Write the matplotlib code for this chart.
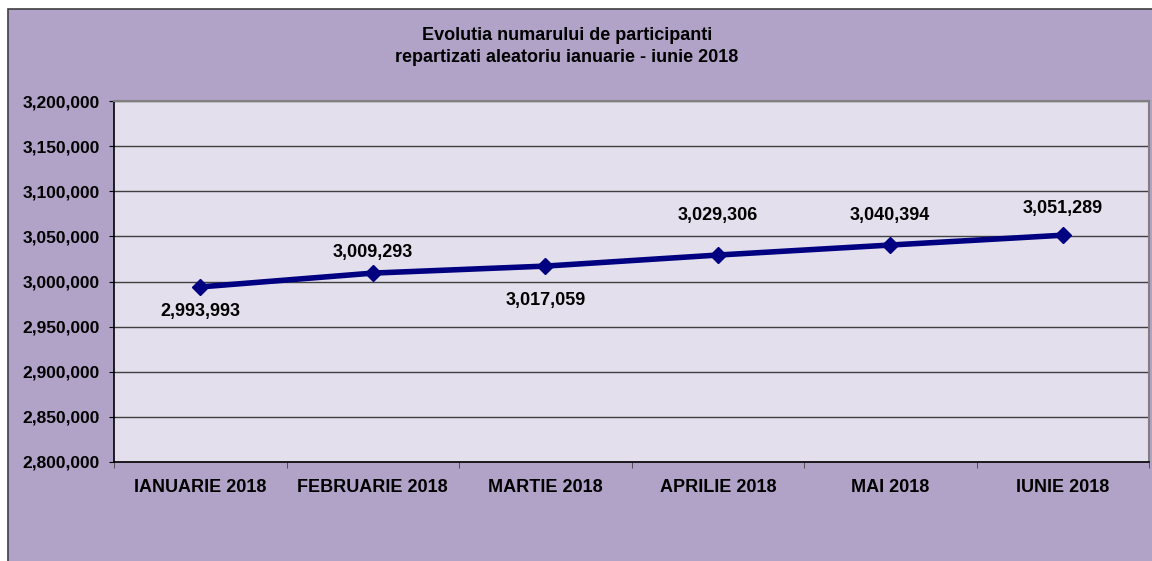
import matplotlib.pyplot as plt
from matplotlib.patches import Rectangle
from matplotlib.ticker import FuncFormatter

luni = ['IANUARIE 2018', 'FEBRUARIE 2018', 'MARTIE 2018', 'APRILIE 2018', 'MAI 2018', 'IUNIE 2018']
participanti = [2993993, 3009293, 3017059, 3029306, 3040394, 3051289]
# offset of each value label, in pixels (below / above the point)
offset_eticheta = [-25, 21, -34, 40, 30, 27]

plt.rcParams['font.family'] = ['Liberation Sans', 'DejaVu Sans']
plt.rcParams['font.weight'] = 'bold'

fig = plt.figure(figsize=(11.52, 5.61), dpi=100)
fig.patch.set_facecolor('white')

# purple chart panel with border on top and left
fig.patches.append(Rectangle((8 / 1152, -0.01), 1.02, 1 - 9 / 561 + 0.01, transform=fig.transFigure,
                             facecolor='#B1A2C7', edgecolor='#404040', linewidth=1.2, zorder=-5))

ax = fig.add_axes([114 / 1152, 1 - 462 / 561, (1149 - 114) / 1152, (462 - 101) / 561])
ax.set_facecolor('#E4DFEC')

x = list(range(len(luni)))
ax.plot(x, participanti, color='#000080', linewidth=4, marker='D', markersize=8, zorder=3)

for xi, v, off in zip(x, participanti, offset_eticheta):
    ax.annotate(f'{v:,}', (xi, v), xytext=(0, off), textcoords='offset pixels',
                ha='center', va='center', fontsize=13, fontweight='bold', color='black')

ax.set_ylim(2800000, 3200000)
ax.set_yticks(range(2800000, 3200001, 50000))
ax.yaxis.set_major_formatter(FuncFormatter(lambda v, p: f'{int(v):,}'))
ax.grid(axis='y', color='#404040', linewidth=1)
ax.set_axisbelow(True)

ax.set_xlim(-0.5, len(luni) - 0.5)
ax.set_xticks(x)
ax.set_xticklabels(luni)
ax.set_xticks([i - 0.5 for i in range(len(luni) + 1)], minor=True)
ax.tick_params(axis='x', which='major', length=0, pad=12, labelsize=13)
ax.tick_params(axis='x', which='minor', length=4, direction='out', color='#404040')
ax.tick_params(axis='y', length=3.5, direction='out', labelsize=12.5, pad=6.5)

for s in ['left', 'bottom']:
    ax.spines[s].set_color('black')
    ax.spines[s].set_linewidth(1.2)
for s in ['top', 'right']:
    ax.spines[s].set_color('#808080')
    ax.spines[s].set_linewidth(1.5)

fig.text(567 / 1152, 1 - 35 / 561, 'Evolutia numarului de participanti', ha='center', va='center',
         fontsize=13, fontweight='bold')
fig.text(567 / 1152, 1 - 57 / 561, 'repartizati aleatoriu ianuarie - iunie 2018', ha='center', va='center',
         fontsize=13, fontweight='bold')

fig.savefig('out.png', dpi=100)
